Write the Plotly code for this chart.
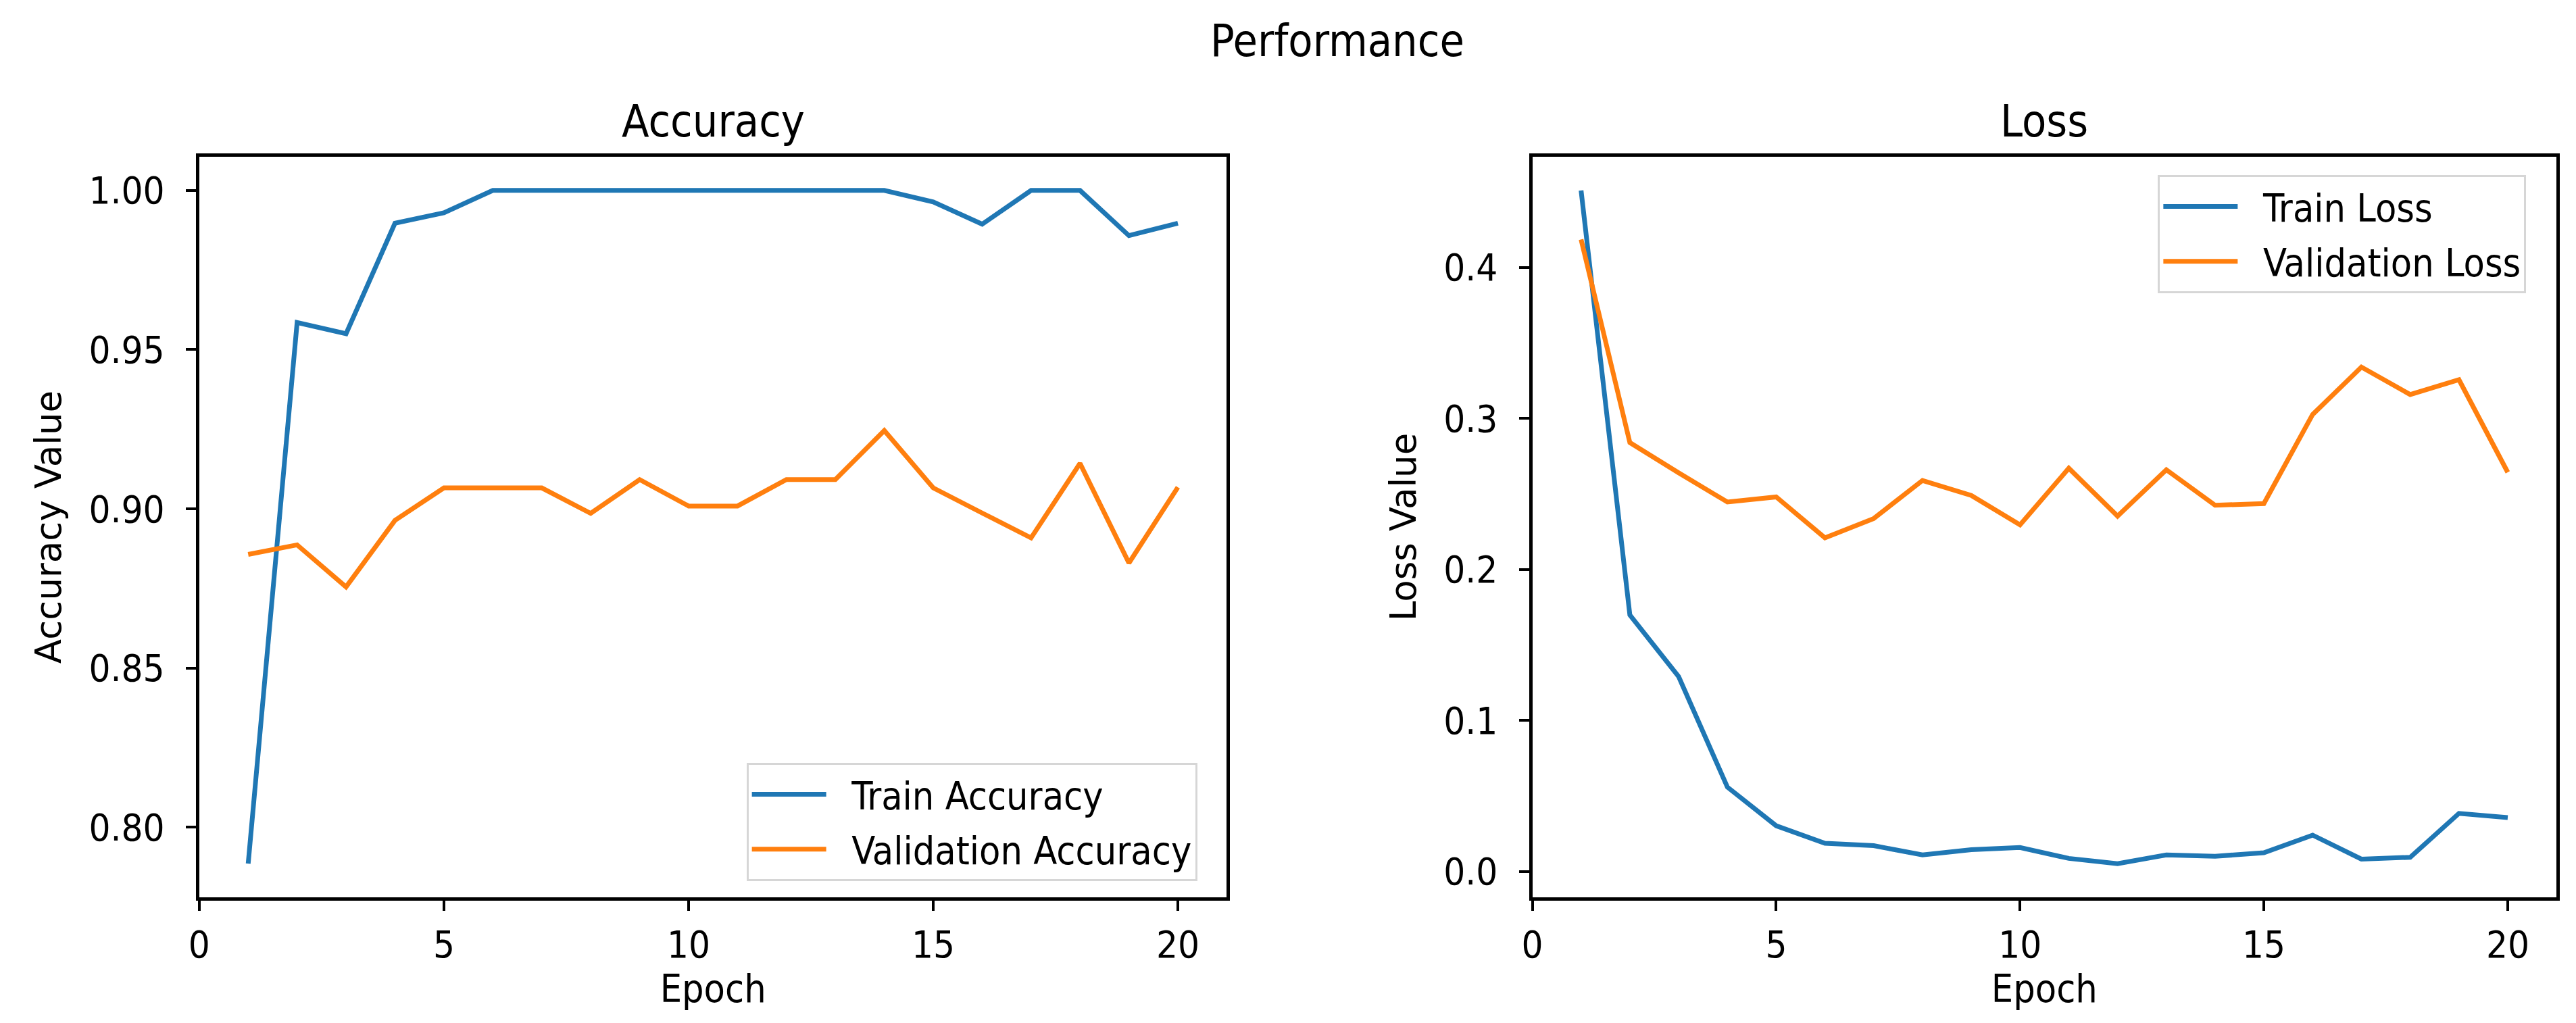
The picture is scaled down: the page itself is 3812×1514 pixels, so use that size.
import plotly.graph_objects as go

epochs = list(range(1, 21))
train_acc = [0.7886, 0.9585, 0.9550, 0.9897, 0.9930, 1.0, 1.0, 1.0, 1.0, 1.0,
             1.0, 1.0, 1.0, 1.0, 0.9964, 0.9894, 1.0, 1.0, 0.9858, 0.9897]
val_acc = [0.8857, 0.8887, 0.8755, 0.8964, 0.9066, 0.9066, 0.9066, 0.8986, 0.9092, 0.9009,
           0.9009, 0.9092, 0.9092, 0.9246, 0.9066, 0.8987, 0.8909, 0.9143, 0.8830, 0.9068]
train_loss = [0.4510, 0.1698, 0.1290, 0.0558, 0.0302, 0.0186, 0.0170, 0.0109, 0.0144, 0.0158,
              0.0086, 0.0051, 0.0109, 0.0100, 0.0123, 0.0240, 0.0081, 0.0093, 0.0384, 0.0356]
val_loss = [0.4185, 0.2840, 0.2640, 0.2446, 0.2480, 0.2209, 0.2337, 0.2589, 0.2490, 0.2295,
            0.2670, 0.2353, 0.2660, 0.2425, 0.2436, 0.3026, 0.3340, 0.3158, 0.3256, 0.2643]
acc_ticks = [0.80, 0.85, 0.90, 0.95, 1.00]
loss_ticks = [0.0, 0.1, 0.2, 0.3, 0.4]
epoch_ticks = [0, 5, 10, 15, 20]
epoch_range = [0, 21]

BLUE = "#1f77b4"
ORANGE = "#ff7f0e"
FONT = "DejaVu Sans Condensed, DejaVu Sans"
FONT_WIDE = "DejaVu Sans"
W, H = 3812, 1514
GAP = "\u00a0\u00a0"  # small gap between legend line sample and its label


def padded(vals, frac=0.05):
    lo, hi = min(vals), max(vals)
    d = (hi - lo) * frac
    return [lo - d, hi + d]


fig = go.Figure()
series = [
    (train_acc, "Train Accuracy", BLUE, "x", "y", "legend"),
    (val_acc, "Validation Accuracy", ORANGE, "x", "y", "legend"),
    (train_loss, "Train Loss", BLUE, "x2", "y2", "legend2"),
    (val_loss, "Validation Loss", ORANGE, "x2", "y2", "legend2"),
]
for vals, name, color, xa, ya, lg in series:
    fig.add_trace(go.Scatter(x=epochs, y=vals, mode="lines", name=GAP + name, legendgroup=name,
                             line=dict(color=color, width=7), xaxis=xa, yaxis=ya, legend=lg))

axis_common = dict(showline=True, linecolor="black", linewidth=5, mirror=True,
                   showgrid=False, zeroline=False, ticks="outside", ticklen=15,
                   tickwidth=4, tickcolor="black",
                   tickfont=dict(family=FONT, size=56, color="black"))

y_dom = [1 - 1320 / H, 1 - 224 / H]
xtitle = dict(text="Epoch", font=dict(family=FONT, size=57, color="black"), standoff=10)
legend_common = dict(bgcolor="rgba(255,255,255,0.8)", bordercolor="#d6d6d6", borderwidth=3,
                     font=dict(family=FONT, size=57, color="black"), itemwidth=110,
                     tracegroupgap=4, traceorder="grouped")

fig.update_layout(
    width=W, height=H,
    margin=dict(l=0, r=0, t=0, b=0),
    paper_bgcolor="white", plot_bgcolor="white",
    font=dict(family=FONT, color="black"),
    title=dict(text="Performance", x=1971 / W, xanchor="center", y=1 - 52 / H, yanchor="middle",
               font=dict(family=FONT, size=66, color="black")),
    xaxis=dict(domain=[272 / W, 1799 / W], range=epoch_range, tickvals=epoch_ticks, anchor="y",
               title=xtitle, ticklabelstandoff=2, **axis_common),
    yaxis=dict(domain=y_dom, range=padded(train_acc + val_acc), tickvals=acc_ticks,
               tickformat=".2f", anchor="x",
               title=dict(text="Accuracy Value", font=dict(family=FONT_WIDE, size=53, color="black"),
                          standoff=25),
               ticklabelstandoff=20, **axis_common),
    xaxis2=dict(domain=[2253 / W, 3775 / W], range=epoch_range, tickvals=epoch_ticks, anchor="y2",
                title=xtitle, ticklabelstandoff=2, **axis_common),
    yaxis2=dict(domain=y_dom, range=padded(train_loss + val_loss), tickvals=loss_ticks,
                tickformat=".1f", anchor="x2",
                title=dict(text="Loss Value", font=dict(family=FONT_WIDE, size=53, color="black"),
                           standoff=25),
                ticklabelstandoff=20, **axis_common),
    legend=dict(x=1755 / W, xanchor="right", y=1 - 1296 / H, yanchor="bottom", **legend_common),
    legend2=dict(x=3730 / W, xanchor="right", y=1 - 251 / H, yanchor="top", **legend_common),
    annotations=[
        dict(text="Accuracy", x=(272 + 1799) / 2 / W, y=1 - 172 / H, xref="paper", yref="paper",
             xanchor="center", yanchor="middle", showarrow=False,
             font=dict(family=FONT, size=66, color="black")),
        dict(text="Loss", x=(2253 + 3775) / 2 / W, y=1 - 172 / H, xref="paper", yref="paper",
             xanchor="center", yanchor="middle", showarrow=False,
             font=dict(family=FONT, size=66, color="black")),
    ],
)

fig.write_html("out.html")
